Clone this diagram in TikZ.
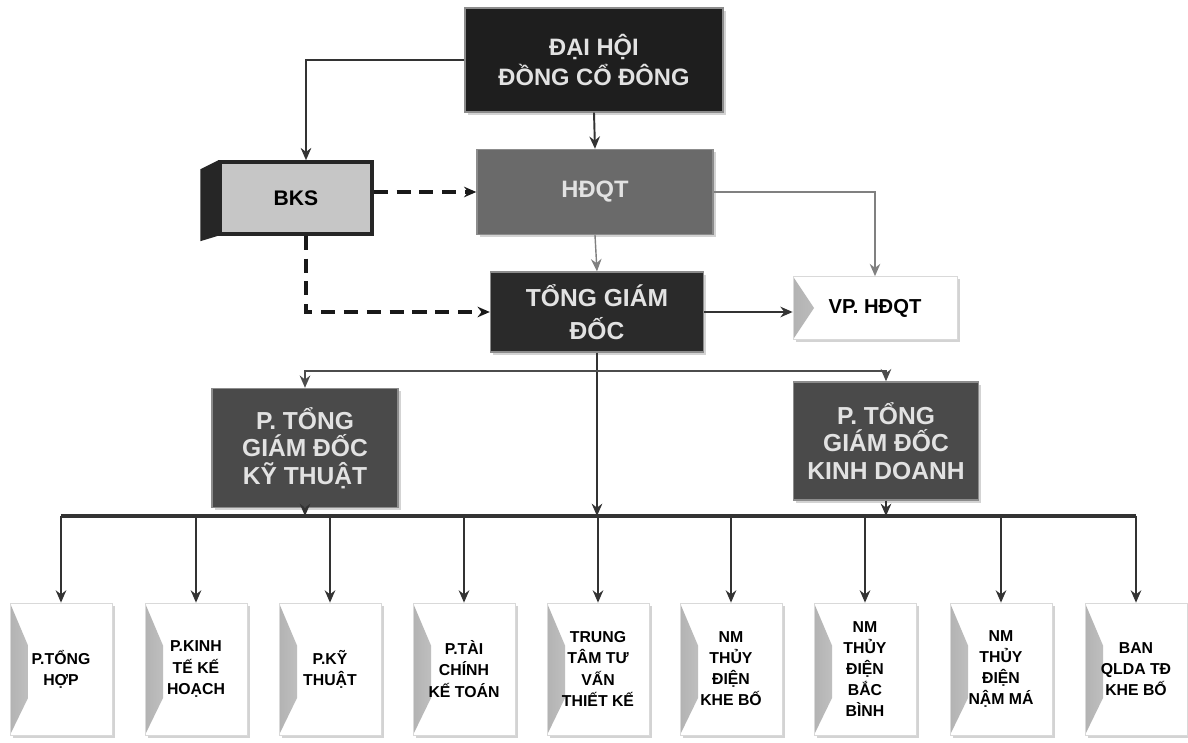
\documentclass[tikz,border=0pt]{standalone}
\usepackage{fontspec}
\setmainfont{Liberation Sans}
\usetikzlibrary{arrows.meta,shadows}

\definecolor{dhcdgray}{HTML}{1E1E1E}
\definecolor{hdqtgray}{HTML}{6A6A6A}
\definecolor{tgdgray}{HTML}{2A2A2A}
\definecolor{ptgdgray}{HTML}{4A4A4A}
\definecolor{bksgray}{HTML}{C6C6C6}
\definecolor{labelgray}{HTML}{E2E2E2}

\begin{document}
\begin{tikzpicture}[>={Stealth[length=7pt,width=6pt]}, x=0.02cm, y=-0.02cm,
    box/.style={align=center, inner sep=2pt,
        drop shadow={shadow xshift=1.5pt, shadow yshift=-1.5pt, opacity=0.35}},
    darkbox/.style={box, text=labelgray, draw=black!45, line width=0.8pt,
        font=\bfseries\fontsize{13.5}{17}\selectfont},
    unitbox/.style={box, fill=white, draw=black!15, text=black,
        minimum width=2.04cm, minimum height=2.64cm,
        font=\bfseries\fontsize{9}{12}\selectfont,
        path picture={\fill[left color=black!30, right color=black!3]
            (path picture bounding box.north west) -- ++(0.36cm,-0.85cm)
            -- ++(0,-1.05cm) -- (path picture bounding box.south west) -- cycle;}},
    link/.style={draw=black!80, line width=1.1pt},
    greylink/.style={draw=black!50, line width=0.8pt},
    dashlink/.style={draw=black!90, line width=2.2pt, dash pattern=on 8pt off 5pt},
    bus/.style={draw=black!80, line width=2.2pt}]
    \useasboundingbox (0,0) rectangle (1188,743);

    % upper levels
    \node[darkbox, fill=dhcdgray, minimum width=5.16cm, minimum height=2.08cm]
        (dhcd) at (594,60) {ĐẠI HỘI\\ĐỒNG CỔ ĐÔNG};
    \node[darkbox, fill=hdqtgray, minimum width=4.72cm, minimum height=1.7cm]
        (hdqt) at (595,192) {HĐQT};
    \node[darkbox, fill=tgdgray, minimum width=4.26cm, minimum height=1.6cm,
        font=\bfseries\fontsize{14}{19}\selectfont]
        (tgd) at (597,312) {TỔNG GIÁM\\ĐỐC};
    \node[box, fill=white, draw=black!15, minimum width=3.28cm, minimum height=1.26cm,
        font=\bfseries\fontsize{11.5}{14}\selectfont,
        path picture={\fill[left color=black!30, right color=black!3]
            (path picture bounding box.north west) -- ++(0.42cm,-0.63cm)
            -- (path picture bounding box.south west) -- cycle;}]
        (vp) at (875,308) {VP. HĐQT};

    % BKS
    \node[fill=bksgray, draw=black!85, line width=2pt, minimum width=3.04cm,
        minimum height=1.44cm, font=\bfseries\fontsize{12}{14}\selectfont]
        (bks) at (296,198) {BKS};
    \fill[black!85] (bks.north west) -- ++(-0.36cm,-0.18cm) -- ++(0,-1.44cm)
        -- (bks.south west) -- cycle;

    % deputies
    \node[darkbox, fill=ptgdgray, minimum width=3.72cm, minimum height=2.38cm,
        font=\bfseries\fontsize{14}{15.5}\selectfont]
        (ptkt) at (305,448) {P. TỔNG\\GIÁM ĐỐC\\KỸ THUẬT};
    \node[darkbox, fill=ptgdgray, minimum width=3.7cm, minimum height=2.36cm,
        font=\bfseries\fontsize{14}{15.5}\selectfont]
        (ptkd) at (886,441) {P. TỔNG\\GIÁM ĐỐC\\KINH DOANH};

    % units
    \node[unitbox] (u1) at (61,669) {P.TỔNG\\HỢP};
    \node[unitbox] (u2) at (196,669) {P.KINH\\TẾ KẾ\\HOẠCH};
    \node[unitbox] (u3) at (330,669) {P.KỸ\\THUẬT};
    \node[unitbox] (u4) at (464,669) {P.TÀI\\CHÍNH\\KẾ TOÁN};
    \node[unitbox] (u5) at (598,669) {TRUNG\\TÂM TƯ\\VẤN\\THIẾT KẾ};
    \node[unitbox] (u6) at (731,669) {NM\\THỦY\\ĐIỆN\\KHE BỐ};
    \node[unitbox] (u7) at (865,669) {NM\\THỦY\\ĐIỆN\\BẮC\\BÌNH};
    \node[unitbox] (u8) at (1001,669) {NM\\THỦY\\ĐIỆN\\NẬM MÁ};
    \node[unitbox] (u9) at (1136,669) {BAN\\QLDA TĐ\\KHE BỐ};

    \coordinate (fork) at (597,371);
    \coordinate (busline) at (597,516);

    % connectors
    \draw[->, link] (dhcd.west) -| ([xshift=0.2cm]bks.north);
    \draw[->, link] (dhcd.south) -- (hdqt.north);
    \draw[->, dashlink] (bks.east |- hdqt.west) -- (hdqt.west);
    \draw[->, dashlink] ([xshift=0.2cm]bks.south) |- (tgd.west);
    \draw[->, greylink] (hdqt.south) -- (tgd.north);
    \draw[->, greylink] (hdqt.east) -| (vp.north);
    \draw[->, link] (tgd.east) -- (tgd.east -| vp.west);
    \draw[->, link] (tgd.south) -- (busline);
    \draw[->, greylink, draw=black!70] (fork) -| (ptkt.north);
    \draw[->, greylink, draw=black!70] (fork) -| (ptkd.north);
    \draw[->, link] (ptkt.south) -- (ptkt.south |- busline);
    \draw[->, link] (ptkd.south) -- (ptkd.south |- busline);
    \draw[bus] (u1.north |- busline) -- (u9.north |- busline);
    \foreach \u in {u1,u2,u3,u4,u5,u6,u7,u8,u9}
        \draw[->, link] (\u.north |- busline) -- (\u.north);
\end{tikzpicture}
\end{document}
